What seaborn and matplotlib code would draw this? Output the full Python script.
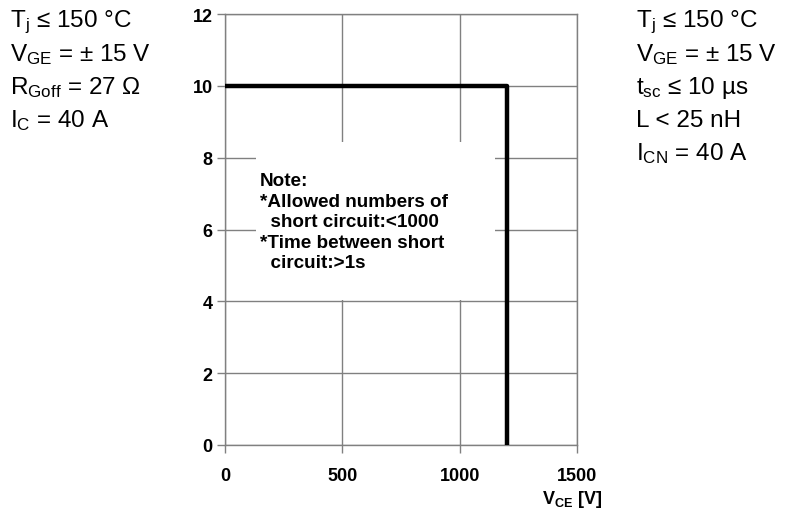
import matplotlib
matplotlib.use("Agg")
import matplotlib.pyplot as plt
import seaborn as sns
import pandas as pd
from matplotlib.patches import Rectangle

# Data
vce = [0, 1200, 1200]
isc_ratio = [10, 10, 0]
x_ticks = [0, 500, 1000, 1500]
y_ticks = [0, 2, 4, 6, 8, 10, 12]
left_conditions = ["T$_{\\mathrm{j}}$ ≤ 150 °C", "V$_{\\mathrm{GE}}$ = ± 15 V",
                   "R$_{\\mathrm{Goff}}$ = 27 Ω", "I$_{\\mathrm{C}}$ = 40 A"]
right_conditions = ["T$_{\\mathrm{j}}$ ≤ 150 °C", "V$_{\\mathrm{GE}}$ = ± 15 V",
                    "t$_{\\mathrm{sc}}$ ≤ 10 µs", "L < 25 nH", "I$_{\\mathrm{CN}}$ = 40 A"]
note_text = "Note:\n*Allowed numbers of\n  short circuit:<1000\n*Time between short\n  circuit:>1s"

sns.set_theme(style="white")
plt.rcParams['font.family'] = ['Liberation Sans', 'DejaVu Sans']
plt.rcParams['text.color'] = 'black'
plt.rcParams['mathtext.fontset'] = 'custom'
plt.rcParams['mathtext.rm'] = 'Liberation Sans'
plt.rcParams['mathtext.it'] = 'Liberation Sans:italic'
plt.rcParams['mathtext.bf'] = 'Liberation Sans:bold'

fig = plt.figure(figsize=(7.95, 5.10), dpi=100)
ax = fig.add_axes([225/795, 1-446/510, 352/795, 431/510])

df = pd.DataFrame({"VCE": vce, "ratio": isc_ratio})
sns.lineplot(data=df, x="VCE", y="ratio", sort=False, estimator=None,
             color="black", lw=3.2, ax=ax, zorder=5)

ax.set_xlim(0, 1500)
ax.set_ylim(0, 12)
ax.set_xticks(x_ticks)
ax.set_yticks(y_ticks)
ax.set_xticklabels([str(t) for t in x_ticks], fontweight='bold', fontsize=13)
ax.set_yticklabels([str(t) for t in y_ticks], fontweight='bold', fontsize=13)
ax.grid(True, color="#808080", lw=1)
for s in ax.spines.values():
    s.set_color("#808080")
    s.set_linewidth(1)
ax.tick_params(axis='both', which='both', direction='out', length=6, width=1,
               color="#808080", labelcolor='black')
ax.tick_params(axis='x', pad=10, bottom=True)
ax.tick_params(axis='y', pad=3, left=True)
ax.set_xlabel("")
ax.set_ylabel("")

# note box
ax.add_patch(Rectangle((132, 4.05), 1018, 4.4, facecolor='white', edgecolor='none', zorder=3))
ax.text(149, 7.6, note_text, fontsize=13.6, fontweight='bold', va='top', ha='left',
        linespacing=1.27, zorder=4)

fig.text(572/795, 1-500/510, "V$_{\\mathbf{CE}}$ [V]", fontsize=13, fontweight='bold',
         ha='center', va='center')
fig.text(200/795, 1-(-8)/510, "I$_{\\mathbf{SC}}$/I$_{\\mathbf{CN}}$", fontsize=13,
         fontweight='bold', ha='left', va='center')

for i, t in enumerate(left_conditions):
    fig.text(10/795, 1-(22+33*i)/510, t, fontsize=17.5, ha='left', va='center')
for i, t in enumerate(right_conditions):
    fig.text(636/795, 1-(22+33*i)/510, t, fontsize=17.5, ha='left', va='center')

fig.savefig("out.png", dpi=100)
